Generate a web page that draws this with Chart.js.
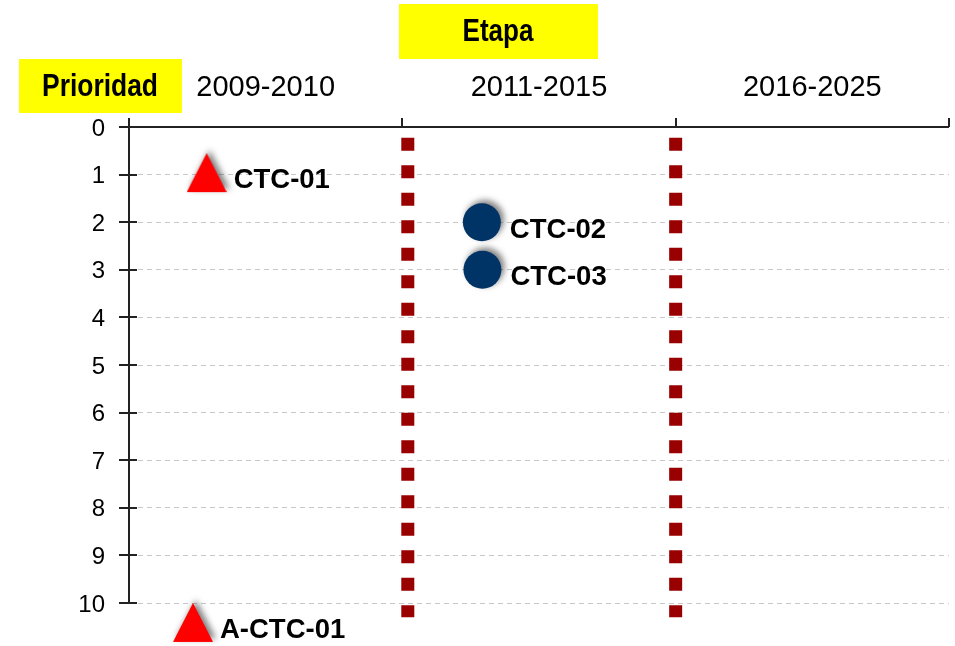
<!DOCTYPE html>
<html><head><meta charset="utf-8">
<script src="https://cdn.jsdelivr.net/npm/chart.js@4.4.1/dist/chart.umd.min.js"></script>
<style>html,body{margin:0;padding:0;background:#fff}canvas{display:block}</style>
</head><body>
<canvas id="c" width="955" height="646"></canvas>
<script>
// ---- data ----
const etapas = ['2009-2010', '2011-2015', '2016-2025'];
const tituloX = 'Etapa';
const tituloY = 'Prioridad';
const trianguloNombres = ['CTC-01', 'A-CTC-01'];
const trianguloX = [0.284, 0.234];
const trianguloY = [1, 10.45];
const circuloNombres = ['CTC-02', 'CTC-03'];
const circuloX = [1.291, 1.293];
const circuloY = [2, 3];
const limitesEtapa = [1.02, 2.0];
const tramoLimite = [0.225, 10.3];

const FONT = "'Liberation Sans', Arial, sans-serif";
const NARROW = "'Liberation Sans Narrow', 'Arial Narrow', 'Liberation Sans', sans-serif";

function makeTriangle() {
  const c = document.createElement('canvas');
  c.width = 40; c.height = 43;
  const g = c.getContext('2d');
  g.fillStyle = '#ff0000';
  g.beginPath(); g.moveTo(20, 0); g.lineTo(40, 39); g.lineTo(0, 39); g.closePath(); g.fill();
  return c;
}
const tri = makeTriangle();

const shadowPlugin = {
  id: 'shadow',
  beforeDatasetDraw(chart, args) {
    const ds = chart.data.datasets[args.index];
    if (!ds.sombra) return;
    const ctx = chart.ctx;
    ctx.save();
    ctx.shadowColor = 'rgba(0,0,0,0.5)';
    ctx.shadowBlur = 6;
    ctx.shadowOffsetX = 3;
    ctx.shadowOffsetY = -3;
  },
  afterDatasetDraw(chart, args) {
    const ds = chart.data.datasets[args.index];
    if (!ds.sombra) return;
    chart.ctx.restore();
  }
};

const decoPlugin = {
  id: 'deco',
  afterDraw(chart) {
    const ctx = chart.ctx;
    const xs = chart.scales.x, ys = chart.scales.y;
    const L = chart.chartArea.left, R = chart.chartArea.right, T = chart.chartArea.top, B = chart.chartArea.bottom;
    ctx.save();
    ctx.strokeStyle = '#222';
    ctx.lineWidth = 2;
    ctx.beginPath();
    ctx.moveTo(L, T); ctx.lineTo(L, B);
    ctx.moveTo(L, T); ctx.lineTo(R, T);
    for (let v = ys.min; v <= ys.max; v++) {
      const y = Math.round(ys.getPixelForValue(v));
      ctx.moveTo(L - 10, y); ctx.lineTo(L + 8, y);
    }
    for (let v = xs.min; v <= xs.max; v++) {
      const x = Math.round(xs.getPixelForValue(v));
      ctx.moveTo(x, T - 9); ctx.lineTo(x, T);
    }
    ctx.stroke();

    // labels of points
    ctx.fillStyle = '#000';
    ctx.font = 'bold 27.5px ' + FONT;
    ctx.textBaseline = 'middle';
    ctx.textAlign = 'left';
    chart.data.datasets.forEach((ds, i) => {
      if (!ds.nombres) return;
      const meta = chart.getDatasetMeta(i);
      meta.data.forEach((el, j) => {
        ctx.fillText(ds.nombres[j], el.x + ds.dx, el.y + ds.dy);
      });
    });

    // yellow title boxes
    ctx.fillStyle = '#ffff00';
    ctx.fillRect(19, 59, 163, 54);
    ctx.fillRect(399, 4, 199, 55);
    ctx.fillStyle = '#000';
    ctx.font = 'bold 31px ' + NARROW;
    ctx.textAlign = 'center';
    ctx.fillText(tituloY, 100, 87, 116);
    ctx.fillText(tituloX, 498, 32, 71);
    ctx.restore();
  }
};

const lineaDs = (x) => ({
  type: 'line',
  data: tramoLimite.map(y => ({ x: x, y: y })),
  borderColor: '#990000',
  borderWidth: 13,
  borderDash: [13, 14.5],
  borderCapStyle: 'butt',
  pointRadius: 0,
  fill: false,
  clip: false,
  order: 3
});

new Chart(document.getElementById('c'), {
  type: 'scatter',
  data: {
    datasets: [
      {
        data: trianguloX.map((x, i) => ({ x: x, y: trianguloY[i] })),
        pointStyle: tri,
        pointRadius: 40,
        nombres: trianguloNombres,
        dx: 27,
        dy: 6,
        sombra: true,
        clip: false,
        order: 1
      },
      {
        data: circuloX.map((x, i) => ({ x: x, y: circuloY[i] })),
        pointStyle: 'circle',
        pointRadius: 19,
        backgroundColor: '#003366',
        borderWidth: 0,
        nombres: circuloNombres,
        dx: 28,
        dy: 8,
        sombra: true,
        clip: false,
        order: 1
      },
      lineaDs(limitesEtapa[0]),
      lineaDs(limitesEtapa[1])
    ]
  },
  options: {
    responsive: false,
    animation: false,
    events: [],
    layout: { autoPadding: false, padding: { left: 0, top: 0, right: 6, bottom: 43 } },
    plugins: { legend: { display: false }, tooltip: { enabled: false }, title: { display: false } },
    scales: {
      x: {
        type: 'linear',
        position: 'top',
        min: 0, max: 3,
        afterBuildTicks: s => { s.ticks = etapas.map((e, i) => ({ value: i + 0.5 })); },
        afterFit: s => { s.height = 127; s.paddingLeft = 0; s.paddingRight = 0; },
        ticks: {
          callback: (v, i) => etapas[i],
          color: '#000',
          font: { family: FONT, size: 29 },
          padding: 22,
          maxRotation: 0,
          autoSkip: false
        },
        grid: { display: false, drawTicks: false },
        border: { display: false }
      },
      y: {
        type: 'linear',
        reverse: true,
        min: 0, max: 10,
        afterFit: s => { s.width = 129; s.paddingTop = 0; s.paddingBottom = 0; },
        ticks: {
          stepSize: 1,
          color: '#000',
          font: { family: FONT, size: 24 },
          padding: 24,
          labelOffset: 2
        },
        grid: {
          drawTicks: false,
          color: ctx => ctx.tick && ctx.tick.value === 0 ? 'rgba(0,0,0,0)' : '#c8c8c8',
          lineWidth: 1
        },
        border: { display: false, dash: [5, 4] }
      }
    }
  },
  plugins: [shadowPlugin, decoPlugin]
});
</script>
</body></html>
